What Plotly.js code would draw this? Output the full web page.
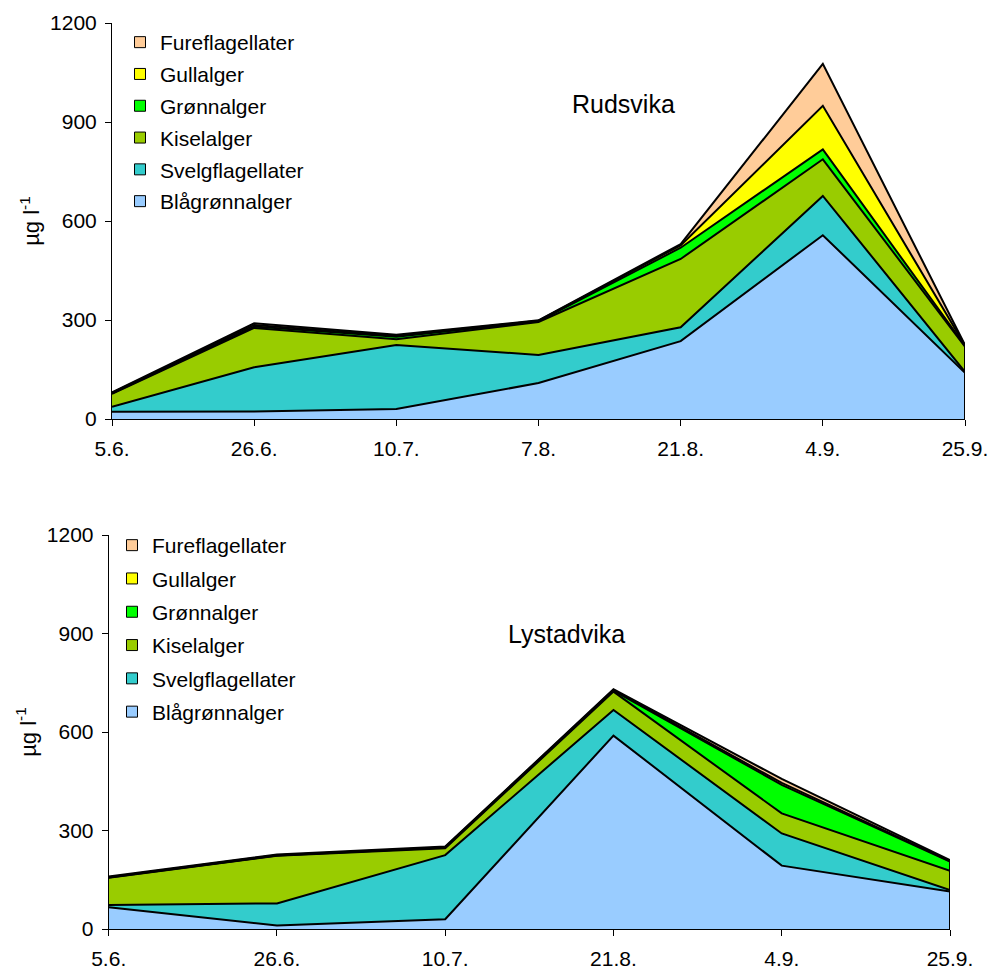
<!DOCTYPE html>
<html>
<head>
<meta charset="utf-8">
<script src="https://cdn.plot.ly/plotly-3.0.1.min.js"></script>
<style>html,body{margin:0;padding:0;background:#fff;}#chart{width:992px;height:971px;}</style>
</head>
<body>
<div id="chart"></div>
<script>
// ---- data ----
const seriesNames = ["Blågrønnalger", "Svelgflagellater", "Kiselalger", "Grønnalger", "Gullalger", "Fureflagellater"];
const seriesColors = ["#99CCFF", "#33CCCC", "#99CC00", "#00FF00", "#FFFF00", "#FFCC99"];

const rudsDates = ["5.6.", "26.6.", "10.7.", "7.8.", "21.8.", "4.9.", "25.9."];
const rudsBlaa   = [22, 23, 30, 109, 236, 557, 140];
const rudsSvelg  = [15, 134, 194, 85, 42, 119, 3];
const rudsKisel  = [39, 119, 18, 100, 207, 111, 76];
const rudsGroenn = [2, 4, 7, 2, 34, 30, 3];
const rudsGull   = [1, 5, 3, 2, 7, 132, 1];
const rudsFure   = [2, 5, 3, 1, 4, 127, 1];

const lystDates = ["5.6.", "26.6.", "10.7.", "21.8.", "4.9.", "25.9."];
const lystBlaa   = [66, 11, 30, 589, 193, 114];
const lystSvelg  = [7, 67, 195, 78, 98, 5];
const lystKisel  = [83, 145, 21, 56, 61, 58];
const lystGroenn = [1, 1, 2, 3, 87, 28];
const lystGull   = [1, 1, 1, 2, 6, 2];
const lystFure   = [2, 2, 2, 2, 12, 3];

const yTicks = [0, 300, 600, 900, 1200];

// ---- build ----
const FONT = "Liberation Sans, Arial, sans-serif";
const W = 992, H = 971;
const traces = [];

function addSite(dates, series, xa, ya, legendId, stack) {
  series.forEach((vals, i) => {
    traces.push({
      type: "scatter", mode: "lines", x: dates, y: vals,
      xaxis: xa, yaxis: ya, stackgroup: stack,
      fillcolor: seriesColors[i],
      line: {color: "#000", width: 2},
      showlegend: false, hoverinfo: "skip"
    });
  });
  // right-edge outline of the stacked area
  const last = dates.length - 1;
  const total = series.reduce((s, v) => s + v[last], 0);
  traces.push({
    type: "scatter", mode: "lines", x: [dates[last], dates[last]], y: [0, total],
    xaxis: xa, yaxis: ya, line: {color: "#000", width: 2},
    showlegend: false, hoverinfo: "skip"
  });
  // legend entries (square swatches), top entry = last series
  for (let i = series.length - 1; i >= 0; i--) {
    traces.push({
      type: "scatter", mode: "markers", x: [null], y: [null],
      xaxis: xa, yaxis: ya, name: seriesNames[i],
      legend: legendId, legendgroup: legendId + "g" + i,
      marker: {symbol: "square", size: 11, color: seriesColors[i], line: {color: "#000", width: 1}},
      hoverinfo: "skip"
    });
  }
}

addSite(rudsDates, [rudsBlaa, rudsSvelg, rudsKisel, rudsGroenn, rudsGull, rudsFure], "x", "y", "legend", "a");
addSite(lystDates, [lystBlaa, lystSvelg, lystKisel, lystGroenn, lystGull, lystFure], "x2", "y2", "legend2", "b");

const px = v => v / W;
const py = v => 1 - v / H;

function xAxis(domain, n) {
  return {
    domain: domain, type: "category", range: [0, n - 1],
    showline: true, linecolor: "#000", linewidth: 1,
    ticks: "outside", ticklen: 6, tickcolor: "#000", tickwidth: 1,
    showgrid: false, zeroline: false, fixedrange: true,
    ticklabelstandoff: 5,
    tickfont: {family: FONT, size: 21, color: "#000"}
  };
}
function yAxis(domain) {
  return {
    domain: domain, range: [0, 1200], tickvals: yTicks,
    showline: true, linecolor: "#000", linewidth: 1,
    ticks: "outside", ticklen: 6, tickcolor: "#000", tickwidth: 1,
    showgrid: false, zeroline: false, fixedrange: true,
    ticklabelstandoff: 4,
    tickfont: {family: FONT, size: 21, color: "#000"},
    title: {text: "µg l<sup>-1</sup>", font: {family: FONT, size: 22, color: "#000"}, standoff: 4}
  };
}
function legendObj(x, y, gap) {
  return {
    x: x, y: y, xanchor: "left", yanchor: "top",
    bgcolor: "rgba(0,0,0,0)", borderwidth: 0,
    traceorder: "grouped", tracegroupgap: gap,
    font: {family: FONT, size: 21, color: "#000"}
  };
}

const layout = {
  width: W, height: H, autosize: false,
  margin: {l: 0, r: 0, t: 0, b: 0, pad: 0},
  paper_bgcolor: "#fff", plot_bgcolor: "rgba(0,0,0,0)",
  font: {family: FONT, size: 21, color: "#000"},
  xaxis: Object.assign(xAxis([px(112), px(965)], rudsDates.length), {anchor: "y"}),
  yaxis: Object.assign(yAxis([py(419), py(23)]), {anchor: "x"}),
  xaxis2: Object.assign(xAxis([px(108.7), px(950)], lystDates.length), {anchor: "y2"}),
  yaxis2: Object.assign(yAxis([py(929), py(535)]), {anchor: "x2"}),
  legend: legendObj(px(120), py(22), 1.5),
  legend2: legendObj(px(112), py(525), 3),
  annotations: [
    {text: "Rudsvika", xref: "paper", yref: "paper", x: px(623), y: py(104), xanchor: "center", yanchor: "middle", showarrow: false, font: {family: FONT, size: 25, color: "#000"}},
    {text: "Lystadvika", xref: "paper", yref: "paper", x: px(566), y: py(634), xanchor: "center", yanchor: "middle", showarrow: false, font: {family: FONT, size: 25, color: "#000"}}
  ],
  showlegend: true
};

Plotly.newPlot("chart", traces, layout, {staticPlot: true, displayModeBar: false});
</script>
</body>
</html>
